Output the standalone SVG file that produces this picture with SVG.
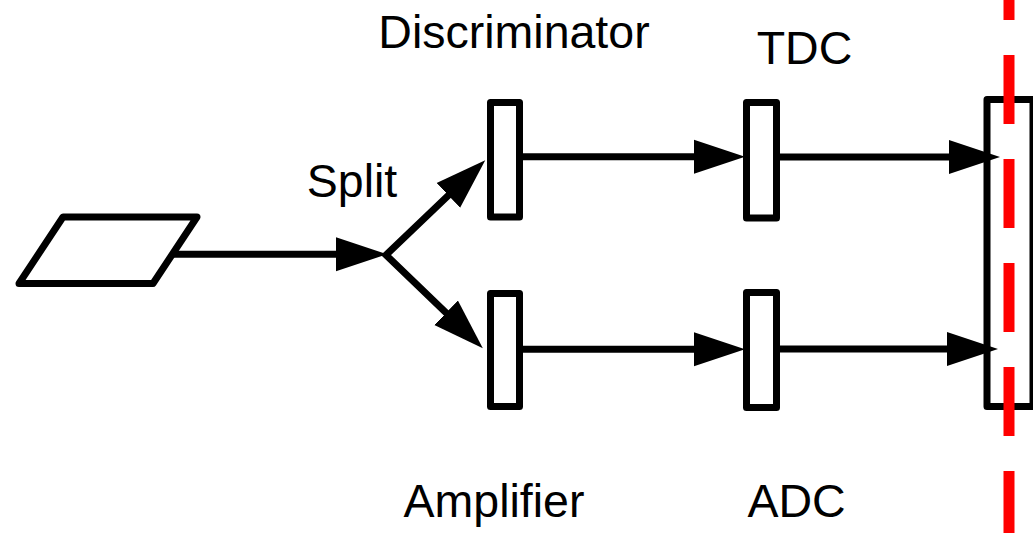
<svg xmlns="http://www.w3.org/2000/svg" width="1033" height="533" viewBox="0 0 1033 533">
  <defs>
    <marker id="arrow" markerUnits="userSpaceOnUse" markerWidth="52" markerHeight="36" refX="10" refY="17" orient="auto-start-reverse" viewBox="0 0 52 34">
      <path d="M0,0 L51,17 L0,34 Z" fill="#000"/>
    </marker>
  </defs>
  <style>
    .box { fill: #fff; stroke: #000; stroke-width: 7; stroke-linejoin: round; }
    .conn { fill: none; stroke: #000; stroke-width: 7; stroke-linejoin: miter; }
    .lbl { font-family: "Liberation Sans", Arial, sans-serif; font-size: 46.5px; fill: #000; text-anchor: middle; }
    .red { stroke: #ff0000; stroke-width: 11; stroke-dasharray: 69 35; stroke-dashoffset: 49; fill: none; }
  </style>
  <rect width="1033" height="533" fill="#fff"/>

  <g id="source">
    <polygon class="box" points="63,217 197,217 153,283.5 19,283.5"/>
  </g>

  <g id="split">
    <text class="lbl" x="352" y="197">Split</text>
  </g>

  <g id="discriminator">
    <rect class="box" x="490.5" y="102.5" width="29" height="114.5"/>
    <text class="lbl" x="514" y="48">Discriminator</text>
  </g>

  <g id="amplifier">
    <rect class="box" x="490.5" y="293.5" width="29" height="113"/>
    <text class="lbl" x="494" y="517">Amplifier</text>
  </g>

  <g id="tdc">
    <rect class="box" x="746.5" y="102.5" width="30" height="115.5"/>
    <text class="lbl" x="804.5" y="64">TDC</text>
  </g>

  <g id="adc">
    <rect class="box" x="746.5" y="292.5" width="30" height="115"/>
    <text class="lbl" x="796.5" y="517">ADC</text>
  </g>

  <g id="output">
    <rect class="box" x="987" y="99.5" width="46" height="307"/>
  </g>

  <g id="connectors">
    <line class="conn" x1="172" y1="254.3" x2="346" y2="254.3" marker-end="url(#arrow)"/>
    <polyline class="conn" points="455.6,188.5 386,255 453.3,319.8" marker-start="url(#arrow)" marker-end="url(#arrow)"/>
    <line class="conn" x1="519" y1="156.7" x2="704" y2="156.7" marker-end="url(#arrow)"/>
    <line class="conn" x1="519" y1="349.3" x2="704" y2="349.3" marker-end="url(#arrow)"/>
    <line class="conn" x1="776" y1="157" x2="959" y2="157" marker-end="url(#arrow)"/>
    <line class="conn" x1="776" y1="349" x2="957" y2="349" marker-end="url(#arrow)"/>
  </g>

  <g id="boundary">
    <line class="red" x1="1009" y1="0" x2="1009" y2="533"/>
  </g>
</svg>
